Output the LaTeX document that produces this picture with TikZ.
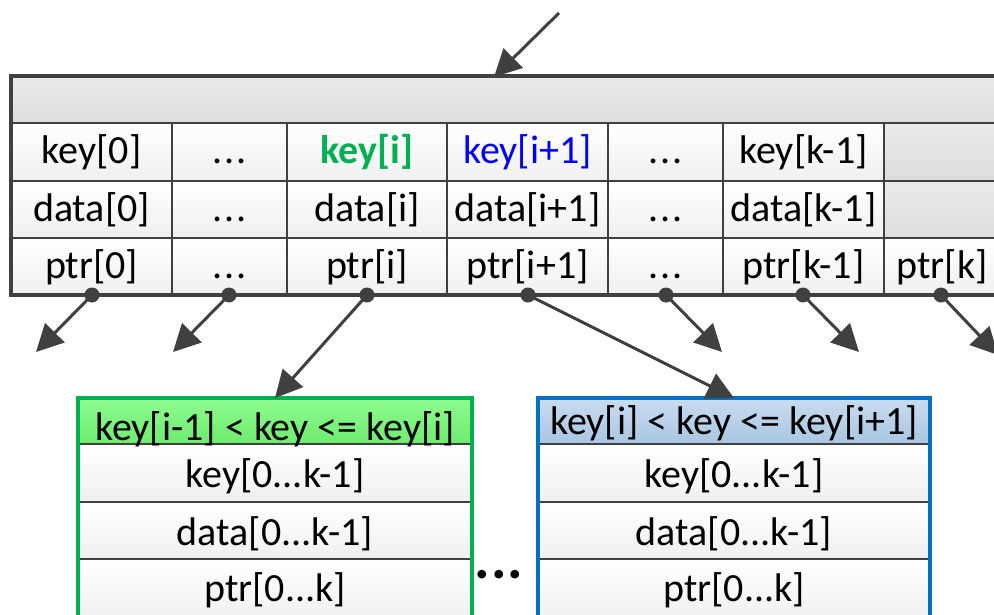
\documentclass[tikz,border=0pt]{standalone}
\usepackage{fontspec}
\setmainfont{Carlito}
\usetikzlibrary{arrows.meta}
\definecolor{ln}{HTML}{404040}
\definecolor{grn}{HTML}{00B050}
\definecolor{blu}{HTML}{0070C0}
\definecolor{kblue}{HTML}{0000FF}
\definecolor{ghi}{HTML}{8FFC8F}
\definecolor{glo}{HTML}{6EEB6E}
\definecolor{bhi}{HTML}{CADCEF}
\definecolor{blo}{HTML}{A8C5E2}
\begin{document}
\begin{tikzpicture}[x=1pt,y=-1pt,
  cell/.style={rectangle, draw=ln, line width=2pt, inner sep=0pt, outer sep=0pt,
    anchor=north west, top color=white, bottom color=gray!12},
  graycell/.style={cell, top color=gray!16, bottom color=gray!27},
  greenhead/.style={cell, top color=ghi, bottom color=glo},
  bluehead/.style={cell, top color=bhi, bottom color=blo},
  txt/.style={font=\fontsize{40}{42}\selectfont, anchor=base, inner sep=0pt},
  dot/.style={circle, fill=ln, minimum size=15pt, inner sep=0pt},
  arr/.style={draw=ln, line width=3pt, -{Triangle[length=27pt,width=27pt]}, fill=ln}]
\useasboundingbox (0,0) rectangle (994,614);
\clip (0,0) rectangle (994,614);

% ---------- main node ----------
\node[graycell, minimum width=989pt, minimum height=47pt] (hdr) at (11,76) {};
% columns: 11,172,287,447,608,723,884,1000
\foreach \n/\x/\w in {1/11/161, 2/172/115, 3/287/160, 4/447/161, 5/608/115, 6/723/161}{
  \node[cell, minimum width=\w pt, minimum height=58pt] (k\n) at (\x,123) {};
  \node[cell, minimum width=\w pt, minimum height=57pt] (v\n) at (\x,181) {};
  \node[cell, minimum width=\w pt, minimum height=57pt] (p\n) at (\x,238) {};
}
\node[graycell, minimum width=116pt, minimum height=58pt] (k7) at (884,123) {};
\node[graycell, minimum width=116pt, minimum height=57pt] (v7) at (884,181) {};
\node[cell, minimum width=116pt, minimum height=57pt] (p7) at (884,238) {};
\draw[ln, line width=3.5pt] (11,76) rectangle (1000,295);

% texts
\node[txt] (tk1) at (91.5,163) {key[0]};
\node[txt] (tk2) at (229.5,163) {.\kern2pt.\kern2pt.};
\node[txt, text=grn] (tk3) at (367,163) {\textbf{key[i]}};
\node[txt, text=kblue] (tk4) at (527.5,163) {key[i+1]};
\node[txt] (tk5) at (665.5,163) {.\kern2pt.\kern2pt.};
\node[txt] (tk6) at (803.5,163) {key[k-1]};

\node[txt] (tv1) at (91.5,221) {data[0]};
\node[txt] (tv2) at (229.5,221) {.\kern2pt.\kern2pt.};
\node[txt] (tv3) at (367,221) {data[i]};
\node[txt] (tv4) at (527.5,221) {data[i+1]};
\node[txt] (tv5) at (665.5,221) {.\kern2pt.\kern2pt.};
\node[txt] (tv6) at (803.5,221) {data[k-1]};

\node[txt] (tp1) at (91.5,278) {ptr[0]};
\node[txt] (tp2) at (229.5,278) {.\kern2pt.\kern2pt.};
\node[txt] (tp3) at (367,278) {ptr[i]};
\node[txt] (tp4) at (527.5,278) {ptr[i+1]};
\node[txt] (tp5) at (665.5,278) {.\kern2pt.\kern2pt.};
\node[txt] (tp6) at (803.5,278) {ptr[k-1]};
\node[txt] (tp7) at (942,278) {ptr[k]};

% ---------- child nodes ----------
% green
\node[greenhead, minimum width=394pt, minimum height=46pt] (g0) at (78,398) {};
\node[cell, minimum width=394pt, minimum height=58pt] (g1) at (78,444) {};
\node[cell, minimum width=394pt, minimum height=57pt] (g2) at (78,502) {};
\node[cell, minimum width=394pt, minimum height=64pt] (g3) at (78,559) {};
\draw[grn, line width=3.5pt] (78,398) rectangle (472,623);
\node[txt] (tg0) at (275,440) {key[i-1] < key <= key[i]};
\node[txt] (tg1) at (275,487) {key[0...k-1]};
\node[txt] (tg2) at (275,545) {data[0...k-1]};
\node[txt] (tg3) at (275,601) {ptr[0...k]};

% blue
\node[bluehead, minimum width=392pt, minimum height=46pt] (b0) at (538,398) {};
\node[cell, minimum width=392pt, minimum height=58pt] (b1) at (538,444) {};
\node[cell, minimum width=392pt, minimum height=57pt] (b2) at (538,502) {};
\node[cell, minimum width=392pt, minimum height=64pt] (b3) at (538,559) {};
\draw[blu, line width=3.5pt] (538,398) rectangle (930,623);
\node[txt] (tb0) at (734,434) {key[i] < key <= key[i+1]};
\node[txt] (tb1) at (734,487) {key[0...k-1]};
\node[txt] (tb2) at (734,545) {data[0...k-1]};
\node[txt] (tb3) at (734,601) {ptr[0...k]};

% bold dots between children
\node[font=\fontsize{58}{60}\selectfont\bfseries, anchor=base, inner sep=0pt] (more) at (499,578) {.\kern1pt.\kern1pt.};

% ---------- connectors ----------
\coordinate (src) at (559,13);
\coordinate (hit) at (494,77);
\coordinate (e1) at (36,352);
\coordinate (e2) at (173,352);
\coordinate (e5) at (722,352);
\coordinate (e6) at (859,352);
\coordinate (e7) at (998,355);

\node[dot] (d1) at (92,295) {};
\node[dot] (d2) at (229,295) {};
\node[dot] (d3) at (367,295) {};
\node[dot] (d4) at (528,295) {};
\node[dot] (d5) at (666,295) {};
\node[dot] (d6) at (803,295) {};
\node[dot] (d7) at (941,295) {};

\draw[arr] (src) -- (hit);
\draw[arr] (d1.center) -- (e1);
\draw[arr] (d2.center) -- (e2);
\draw[arr] (d3.center) -- (g0.north);
\draw[arr] (d4.center) -- (b0.north);
\draw[arr] (d5.center) -- (e5);
\draw[arr] (d6.center) -- (e6);
\draw[arr] (d7.center) -- (e7);
\end{tikzpicture}
\end{document}
